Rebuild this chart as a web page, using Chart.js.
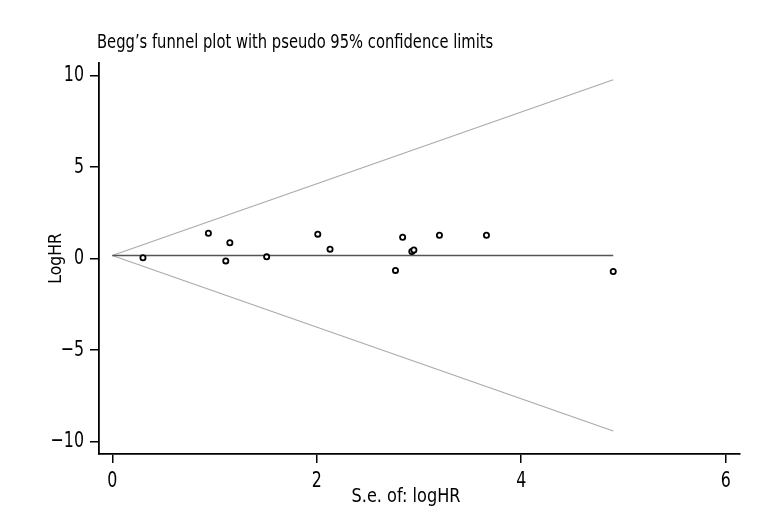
<!DOCTYPE html>
<html>
<head>
<meta charset="utf-8">
<script src="https://cdn.jsdelivr.net/npm/chart.js@4"></script>
<style>
  html, body { margin: 0; padding: 0; background: #fff; }
  #wrap { width: 768px; height: 528px; }
</style>
</head>
<body>
<div id="wrap"><canvas id="myChart" width="768" height="528"></canvas></div>
<script>
// study points: standard error of logHR and logHR
var studySe = [0.30, 0.94, 1.15, 1.11, 1.51, 2.01, 2.13, 2.84, 2.77, 2.93, 2.95, 3.20, 3.66, 4.90];
var studyLogHR = [0.04, 1.38, 0.86, -0.13, 0.09, 1.33, 0.51, 1.16, -0.65, 0.38, 0.46, 1.27, 1.27, -0.71];

// pooled estimate line and pseudo 95% limits (ends)
var lineSe = [0, 4.90];
var pooledLine = [0.16, 0.16];
var upperLimit = [0.16, 9.76];
var lowerLimit = [0.16, -9.42];

// tick labels
var xTicks = [0, 2, 4, 6];
var yTicks = [-10, -5, 0, 5, 10];

var plotTitle = 'Begg\u2019s funnel plot with pseudo 95% confidence limits';
var xTitle = 'S.e. of: logHR';
var yTitle = 'LogHR';

var fontFamily = "'DejaVu Sans Condensed', 'Liberation Sans Narrow', 'Liberation Sans', sans-serif";

function toPoints(xs, ys) {
    var pts = [];
    for (var i = 0; i < xs.length; i++) {
        pts.push({ x: xs[i], y: ys[i] });
    }
    return pts;
}

function tickText(v) {
    return v < 0 ? '\u2212' + Math.abs(v) : String(v);
}

// draw text squeezed horizontally, the original uses a narrow font
function narrowText(ctx, text, x, y, size, squeeze, align, baseline, rotate) {
    ctx.save();
    ctx.font = size + 'px ' + fontFamily;
    ctx.fillStyle = '#000';
    ctx.textBaseline = baseline;
    ctx.textAlign = 'left';
    var w = ctx.measureText(text).width * squeeze;
    var dx = 0;
    if (align === 'center') dx = -w / 2;
    if (align === 'right') dx = -w;
    ctx.translate(x, y);
    if (rotate) ctx.rotate(-Math.PI / 2);
    ctx.scale(squeeze, 1);
    ctx.fillText(text, dx / squeeze, 0);
    ctx.restore();
}

// all the texts: title, tick labels, axis titles
var textPlugin = {
    id: 'plotTexts',
    afterDraw: function (chart) {
        var ctx = chart.ctx;
        var xs = chart.scales.x;
        var ys = chart.scales.y;
        var area = chart.chartArea;

        narrowText(ctx, plotTitle, 97, 48, 19.5, 0.84, 'left', 'alphabetic', false);

        xTicks.forEach(function (v) {
            narrowText(ctx, tickText(v), xs.getPixelForValue(v), 487, 22, 0.8, 'center', 'alphabetic', false);
        });
        yTicks.forEach(function (v) {
            narrowText(ctx, tickText(v), 84, ys.getPixelForValue(v), 22, 0.8, 'right', 'middle', false);
        });

        narrowText(ctx, xTitle, 406, 497, 19.5, 0.92, 'center', 'middle', false);
        narrowText(ctx, yTitle, 56, (area.top + area.bottom) / 2, 18.5, 0.94, 'center', 'middle', true);
    }
};

var ctx = document.getElementById('myChart').getContext('2d');
var chart = new Chart(ctx, {
    type: 'scatter',
    data: {
        datasets: [
            {
                label: 'points',
                data: toPoints(studySe, studyLogHR),
                pointStyle: 'circle',
                pointRadius: 2.6,
                pointBorderWidth: 1.8,
                pointBorderColor: '#000',
                pointBackgroundColor: '#fff',
                order: 0
            },
            {
                label: 'pooled',
                data: toPoints(lineSe, pooledLine),
                showLine: true,
                borderColor: '#555',
                borderWidth: 1.6,
                pointRadius: 0,
                order: 1
            },
            {
                label: 'upper',
                data: toPoints(lineSe, upperLimit),
                showLine: true,
                borderColor: '#aaa',
                borderWidth: 1.1,
                pointRadius: 0,
                order: 2
            },
            {
                label: 'lower',
                data: toPoints(lineSe, lowerLimit),
                showLine: true,
                borderColor: '#aaa',
                borderWidth: 1.1,
                pointRadius: 0,
                order: 2
            }
        ]
    },
    options: {
        responsive: false,
        animation: false,
        events: [],
        layout: {
            padding: { left: 0, top: 63, right: 28, bottom: 0 }
        },
        plugins: {
            legend: { display: false },
            tooltip: { enabled: false }
        },
        scales: {
            x: {
                type: 'linear',
                min: -0.13,
                max: 6.14,
                afterBuildTicks: function (scale) {
                    scale.ticks = xTicks.map(function (v) { return { value: v }; });
                },
                afterFit: function (scale) { scale.height = 74; },
                grid: {
                    display: true,
                    drawOnChartArea: false,
                    drawTicks: true,
                    tickLength: 9,
                    color: '#000',
                    lineWidth: 1.5
                },
                border: { display: true, color: '#000', width: 1.8 },
                ticks: { display: false }
            },
            y: {
                type: 'linear',
                min: -10.67,
                max: 10.67,
                afterBuildTicks: function (scale) {
                    scale.ticks = yTicks.map(function (v) { return { value: v }; });
                },
                afterFit: function (scale) { scale.width = 99; },
                grid: {
                    display: true,
                    drawOnChartArea: false,
                    drawTicks: true,
                    tickLength: 9,
                    color: '#000',
                    lineWidth: 1.5
                },
                border: { display: true, color: '#000', width: 1.8 },
                ticks: { display: false }
            }
        }
    },
    plugins: [textPlugin]
});
</script>
</body>
</html>
